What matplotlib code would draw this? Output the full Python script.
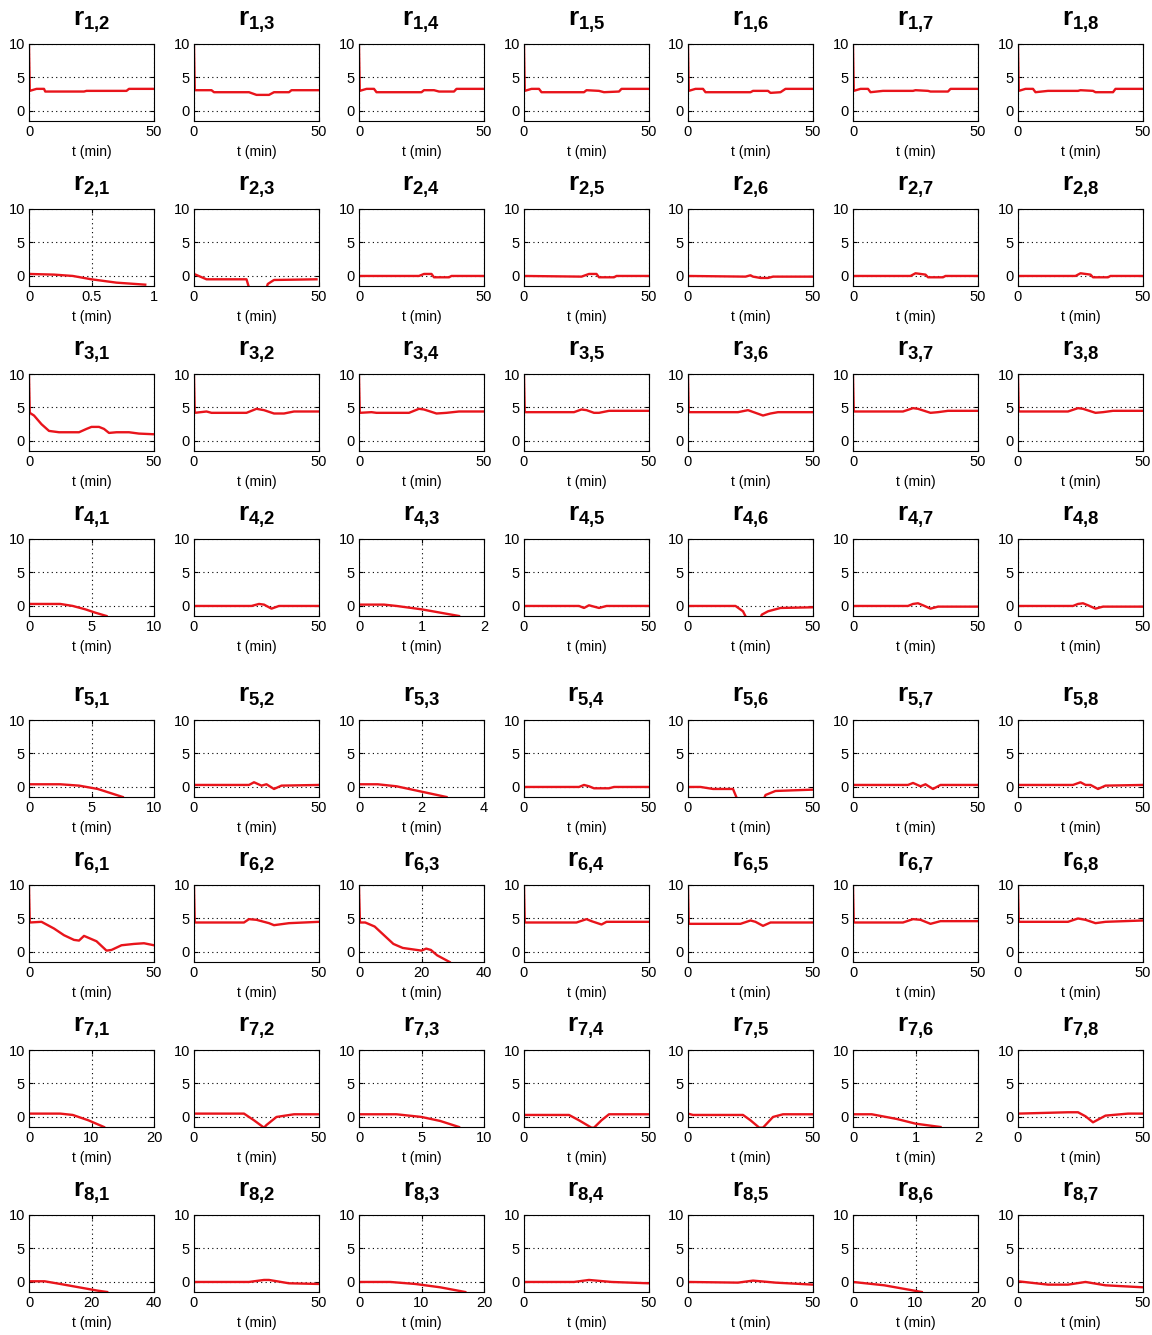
import matplotlib
matplotlib.use("Agg")
import matplotlib.pyplot as plt
from matplotlib.ticker import FixedLocator

plt.rcParams['font.family'] = ['Liberation Sans', 'DejaVu Sans']
plt.rcParams['mathtext.fontset'] = 'custom'
plt.rcParams['mathtext.rm'] = 'Liberation Sans'
plt.rcParams['mathtext.bf'] = 'Liberation Sans:bold'

# x-axis range of each panel, row by row
xmax_rows = [
    [50, 50, 50, 50, 50, 50, 50],
    [1, 50, 50, 50, 50, 50, 50],
    [50, 50, 50, 50, 50, 50, 50],
    [10, 50, 2, 50, 50, 50, 50],
    [10, 50, 4, 50, 50, 50, 50],
    [50, 50, 40, 50, 50, 50, 50],
    [20, 50, 10, 50, 50, 2, 50],
    [40, 50, 20, 50, 50, 20, 50],
]

# (t, r) knots; -3 means the curve leaves the plot below
row1 = [
    ([0, 0.3, 3, 6, 6.5, 22, 23, 39, 40, 50], [9.5, 3.0, 3.3, 3.3, 2.9, 2.9, 3.0, 3.0, 3.3, 3.3]),
    ([0, 0.3, 7, 8, 22, 25, 30, 32, 38, 39, 50], [9.5, 3.1, 3.1, 2.8, 2.8, 2.4, 2.4, 2.8, 2.8, 3.1, 3.1]),
    ([0, 0.3, 3, 6, 7, 25, 26, 30, 32, 38, 39, 50], [9.5, 3.0, 3.3, 3.3, 2.8, 2.8, 3.1, 3.1, 2.9, 2.9, 3.3, 3.3]),
    ([0, 0.3, 3, 6, 7, 24, 25, 30, 32, 38, 39, 50], [9.5, 3.0, 3.3, 3.3, 2.8, 2.8, 3.1, 3.0, 2.8, 2.9, 3.3, 3.3]),
    ([0, 0.3, 3, 6, 7, 25, 26, 32, 33, 37, 39, 50], [9.5, 3.0, 3.3, 3.3, 2.8, 2.8, 3.0, 3.0, 2.7, 2.8, 3.3, 3.3]),
    ([0, 0.3, 3, 6, 7, 12, 24, 25, 30, 31, 38, 39, 50], [9.5, 3.0, 3.3, 3.3, 2.8, 3.0, 3.0, 3.1, 3.0, 2.9, 2.9, 3.3, 3.3]),
    ([0, 0.3, 3, 6, 7, 12, 24, 25, 30, 31, 38, 39, 50], [9.5, 3.0, 3.3, 3.3, 2.8, 3.0, 3.0, 3.1, 3.0, 2.8, 2.8, 3.3, 3.3]),
]
row2 = [
    ([0, 0.2, 0.35, 0.5, 0.7, 0.93], [0.3, 0.2, 0.0, -0.5, -1.0, -1.3]),
    ([0, 5, 21, 23, 28, 29.5, 32, 49], [0.3, -0.5, -0.5, -3, -3, -1.2, -0.6, -0.5]),
    ([0, 24, 26, 29, 30, 36, 37, 50], [0.0, 0.0, 0.3, 0.3, -0.2, -0.2, 0.0, 0.0]),
    ([0, 23, 26, 29, 30, 36, 37, 50], [0.0, -0.1, 0.3, 0.3, -0.2, -0.2, 0.0, 0.0]),
    ([0, 23, 25, 26, 29, 32, 34, 50], [0.0, -0.1, 0.1, -0.1, -0.3, -0.3, -0.1, -0.1]),
    ([0, 23, 25, 27, 29, 30, 36, 37, 50], [0.0, 0.0, 0.4, 0.3, 0.2, -0.2, -0.2, 0.0, 0.0]),
    ([0, 23, 25, 27, 29, 30, 36, 37, 50], [0.0, 0.0, 0.4, 0.3, 0.2, -0.2, -0.2, 0.0, 0.0]),
]
row3 = [
    ([0, 0.3, 2, 5, 8, 12, 20, 23, 25, 28, 30, 32, 35, 40, 44, 50],
     [9.5, 4.2, 3.8, 2.5, 1.5, 1.3, 1.3, 1.8, 2.1, 2.1, 1.8, 1.2, 1.3, 1.3, 1.1, 1.0]),
    ([0, 0.3, 5, 7, 21, 25, 28, 32, 36, 40, 50], [9.5, 4.2, 4.4, 4.2, 4.2, 4.8, 4.6, 4.1, 4.1, 4.4, 4.4]),
    ([0, 0.3, 5, 7, 20, 24, 26, 31, 35, 40, 50], [9.5, 4.2, 4.3, 4.2, 4.2, 4.8, 4.7, 4.1, 4.2, 4.4, 4.4]),
    ([0, 0.3, 20, 23, 25, 28, 30, 34, 50], [9.5, 4.3, 4.3, 4.7, 4.6, 4.2, 4.2, 4.5, 4.5]),
    ([0, 0.3, 20, 24, 27, 30, 33, 36, 50], [9.5, 4.3, 4.3, 4.6, 4.2, 3.8, 4.1, 4.3, 4.3]),
    ([0, 0.3, 20, 24, 26, 31, 34, 38, 50], [9.5, 4.4, 4.4, 4.9, 4.8, 4.2, 4.3, 4.5, 4.5]),
    ([0, 0.3, 20, 24, 26, 31, 34, 38, 50], [9.5, 4.4, 4.4, 4.9, 4.8, 4.2, 4.3, 4.5, 4.5]),
]
row4 = [
    ([0, 2.5, 3.5, 4.5, 5.3, 6.2], [0.3, 0.3, 0.0, -0.5, -1.0, -1.5]),
    ([0, 23, 26, 28, 31, 34, 50], [0.0, 0.0, 0.3, 0.2, -0.4, 0.0, 0.0]),
    ([0, 0.4, 0.6, 1.0, 1.3, 1.6], [0.2, 0.2, 0.0, -0.5, -1.0, -1.5]),
    ([0, 22, 24, 26, 28, 30, 33, 50], [0.0, 0.0, -0.3, 0.1, -0.1, -0.3, 0.0, 0.0]),
    ([0, 19, 22, 25, 28, 29.5, 32, 37, 50], [0.0, 0.0, -0.8, -3, -3, -1.3, -0.8, -0.3, -0.2]),
    ([0, 22, 24, 26, 28, 31, 34, 50], [0.0, 0.0, 0.3, 0.4, 0.1, -0.4, -0.1, -0.1]),
    ([0, 22, 24, 26, 28, 31, 34, 50], [0.0, 0.0, 0.3, 0.4, 0.1, -0.4, -0.1, -0.1]),
]
row5 = [
    ([0, 2.5, 4, 5.5, 7.5], [0.4, 0.4, 0.2, -0.3, -1.5]),
    ([0, 22, 24, 27, 29, 32, 35, 50], [0.3, 0.3, 0.7, 0.2, 0.4, -0.3, 0.2, 0.3]),
    ([0, 0.6, 1.2, 1.8, 2.8], [0.4, 0.4, 0.1, -0.5, -1.5]),
    ([0, 22, 24, 26, 28, 34, 36, 50], [0.0, 0.0, 0.3, 0.1, -0.2, -0.2, 0.0, 0.0]),
    ([0, 5, 10, 18, 21, 29, 31, 35, 50], [0.0, 0.0, -0.3, -0.3, -3, -3, -1.2, -0.6, -0.4]),
    ([0, 22, 24, 27, 29, 32, 35, 50], [0.3, 0.3, 0.6, 0.1, 0.4, -0.3, 0.3, 0.3]),
    ([0, 22, 25, 27, 29, 32, 35, 50], [0.3, 0.3, 0.7, 0.3, 0.3, -0.3, 0.2, 0.3]),
]
row6 = [
    ([0, 0.3, 5, 10, 14, 18, 20, 22, 27, 31, 33, 37, 42, 46, 50],
     [9.5, 4.4, 4.5, 3.5, 2.5, 1.8, 1.7, 2.4, 1.6, 0.2, 0.3, 1.0, 1.2, 1.3, 1.0]),
    ([0, 0.3, 20, 22, 25, 30, 32, 38, 50], [9.5, 4.4, 4.4, 4.9, 4.8, 4.3, 4.0, 4.3, 4.5]),
    ([0, 0.3, 2, 5, 8, 11, 14, 17, 20, 21.5, 23, 25, 29],
     [9.5, 4.4, 4.4, 3.8, 2.5, 1.2, 0.6, 0.4, 0.2, 0.5, 0.3, -0.5, -1.5]),
    ([0, 0.3, 21, 25, 27, 31, 33, 50], [9.5, 4.4, 4.4, 4.9, 4.6, 4.1, 4.5, 4.5]),
    ([0, 0.3, 21, 25, 27, 30, 33, 50], [9.5, 4.2, 4.2, 4.7, 4.5, 3.9, 4.4, 4.4]),
    ([0, 0.3, 20, 24, 27, 31, 35, 50], [9.5, 4.4, 4.4, 4.9, 4.8, 4.2, 4.6, 4.6]),
    ([0, 0.3, 20, 24, 27, 31, 35, 50], [9.5, 4.5, 4.5, 5.0, 4.8, 4.3, 4.5, 4.7]),
]
row7 = [
    ([0, 5, 7, 9.5, 12], [0.5, 0.5, 0.3, -0.5, -1.5]),
    ([0, 20, 24, 28, 29, 33, 40, 50], [0.5, 0.5, -0.5, -1.6, -1.2, 0.0, 0.4, 0.4]),
    ([0, 3, 5, 6.5, 8], [0.4, 0.4, 0.0, -0.6, -1.5]),
    ([0, 18, 22, 27, 28, 31, 34, 50], [0.3, 0.3, -0.5, -1.6, -1.6, -0.5, 0.4, 0.4]),
    ([0, 2, 22, 25, 28.5, 30, 34, 38, 50], [0.5, 0.3, 0.3, -0.5, -1.6, -1.6, 0.0, 0.4, 0.4]),
    ([0, 0.3, 0.7, 1.0, 1.4], [0.4, 0.4, -0.3, -1.0, -1.5]),
    ([0, 20, 24, 27, 30, 35, 44, 50], [0.5, 0.7, 0.7, 0.1, -0.8, 0.2, 0.5, 0.5]),
]
row8 = [
    ([0, 5, 10, 16, 22, 25], [0.1, 0.1, -0.3, -0.8, -1.3, -1.5]),
    ([0, 22, 28, 30, 38, 50], [0.0, 0.0, 0.3, 0.3, -0.2, -0.3]),
    ([0, 5, 9, 13, 17], [0.0, 0.0, -0.3, -0.8, -1.5]),
    ([0, 20, 26, 35, 50], [0.0, 0.0, 0.3, 0.0, -0.2]),
    ([0, 20, 26, 35, 50], [0.0, -0.1, 0.2, -0.1, -0.4]),
    ([0, 5, 8, 11], [0.0, -0.5, -1.0, -1.5]),
    ([0, 12, 20, 27, 35, 50], [0.1, -0.4, -0.4, 0.0, -0.5, -0.8]),
]
rows = [row1, row2, row3, row4, row5, row6, row7, row8]

W, H = 1152, 1335
ax_left = [29, 194, 359, 524, 688, 853, 1018]
ax_top = [44, 209, 374, 539, 720, 885, 1050, 1215]
ax_w, ax_h = 125, 77

fig = plt.figure(figsize=(W / 100, H / 100), dpi=100)

for i, row in enumerate(rows):
    others = [j for j in range(1, 9) if j != i + 1]
    for c, (t, r) in enumerate(row):
        ax = fig.add_axes([ax_left[c] / W, 1 - (ax_top[i] + ax_h) / H, ax_w / W, ax_h / H])
        ax.plot(t, r, color='#e8141b', linewidth=1.7)
        xm = xmax_rows[i][c]
        xt = [0, xm / 2, xm] if xm != 50 else [0, 50]
        ax.set_xlim(0, xm)
        ax.set_ylim(-1.5, 10)
        ax.xaxis.set_major_locator(FixedLocator(xt))
        ax.set_xticklabels(['%g' % v for v in xt])
        ax.yaxis.set_major_locator(FixedLocator([0, 5, 10]))
        ax.grid(True, linestyle=(0, (1, 3)), color='black', linewidth=0.8)
        ax.tick_params(direction='in', length=3, top=True, right=True, labelsize=10.5, pad=3)
        ax.set_xlabel('t (min)', fontsize=10, labelpad=4)
        for s in ax.spines.values():
            s.set_linewidth(0.8)
        ax.set_title(r'$\mathbf{r_{%d{,}%d}}$' % (i + 1, others[c]), fontsize=19, pad=13)

fig.savefig('out.png', dpi=100)
